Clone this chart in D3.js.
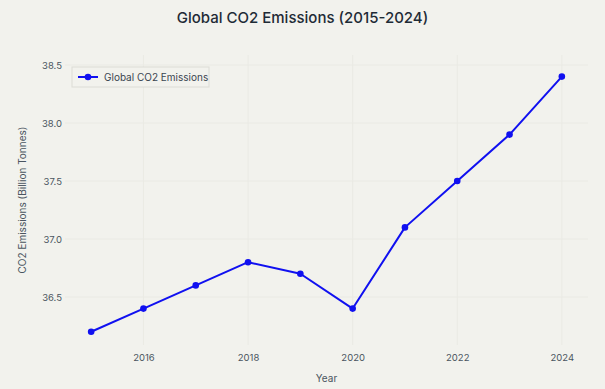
<!DOCTYPE html>
<html>
<head>
<meta charset="utf-8">
<script src="https://cdn.jsdelivr.net/npm/d3@7"></script>
<style>
  html, body { margin: 0; padding: 0; background: #f2f2ed; }
  svg { display: block; }
  text { font-family: Inter, "Open Sans", sans-serif; }
</style>
</head>
<body>
<svg id="chart" width="605" height="389"></svg>
<script>
const years = [2015, 2016, 2017, 2018, 2019, 2020, 2021, 2022, 2023, 2024];
const emissions = [36.2, 36.4, 36.6, 36.8, 36.7, 36.4, 37.1, 37.5, 37.9, 38.4];
const xTicks = [2016, 2018, 2020, 2022, 2024];
const yTicks = [36.5, 37.0, 37.5, 38.0, 38.5];
const seriesName = "Global CO2 Emissions";
const titleText = "Global CO2 Emissions (2015-2024)";
const xTitle = "Year";
const yTitle = "CO2 Emissions (Billion Tonnes)";

const W = 605, H = 389;
const m = { left: 65, right: 17, top: 55, bottom: 44 };
const svg = d3.select("#chart");
svg.append("rect").attr("width", W).attr("height", H).attr("fill", "#f2f2ed");

const x = d3.scaleLinear().domain([2014.5, 2024.5]).range([m.left, W - m.right]);
const y = d3.scaleLinear().domain([36.086, 38.586]).range([H - m.bottom, m.top]);

// grid
const g = svg.append("g");
g.selectAll(".vg").data(xTicks).join("line")
  .attr("x1", d => x(d)).attr("x2", d => x(d))
  .attr("y1", m.top).attr("y2", H - m.bottom)
  .attr("stroke", "#eaeae4").attr("stroke-width", 1);
g.selectAll(".hg").data(yTicks).join("line")
  .attr("x1", m.left).attr("x2", W - m.right)
  .attr("y1", d => y(d)).attr("y2", d => y(d))
  .attr("stroke", "#eaeae4").attr("stroke-width", 1);

// axes
const xAxis = d3.axisBottom(x).tickValues(xTicks).tickFormat(d3.format("d")).tickSize(0).tickPadding(9);
const xa = svg.append("g").attr("transform", `translate(0,${H - m.bottom})`).call(xAxis);
xa.select(".domain").remove();
xa.selectAll("text").attr("font-size", 9.5).attr("fill", "#4a5560").attr("font-family", "Inter, sans-serif");

const yAxis = d3.axisLeft(y).tickValues(yTicks).tickFormat(d3.format(".1f")).tickSize(0).tickPadding(3);
const ya = svg.append("g").attr("transform", `translate(${m.left},0)`).call(yAxis);
ya.select(".domain").remove();
ya.selectAll("text").attr("font-size", 9.5).attr("fill", "#4a5560").attr("font-family", "Inter, sans-serif");

// line
const data = years.map((yr, i) => ({ yr, v: emissions[i] }));
svg.append("path").datum(data)
  .attr("fill", "none").attr("stroke", "#1010f0").attr("stroke-width", 2)
  .attr("stroke-linejoin", "round")
  .attr("d", d3.line().x(d => x(d.yr)).y(d => y(d.v)));
svg.selectAll(".pt").data(data).join("circle")
  .attr("cx", d => x(d.yr)).attr("cy", d => y(d.v)).attr("r", 3.3)
  .attr("fill", "#1010f0");

// titles
svg.append("text").attr("x", W / 2).attr("y", 23).attr("text-anchor", "middle")
  .attr("font-size", 15).attr("font-weight", 500).attr("fill", "#1f2b36").text(titleText);
svg.append("text").attr("x", (m.left + W - m.right) / 2).attr("y", 382).attr("text-anchor", "middle")
  .attr("font-size", 10).attr("fill", "#4a5560").text(xTitle);
svg.append("text").attr("transform", `translate(26,${(m.top + H - m.bottom) / 2}) rotate(-90)`)
  .attr("text-anchor", "middle").attr("font-size", 10).attr("fill", "#4a5560").text(yTitle);

// legend
const lg = svg.append("g").attr("transform", "translate(72,67)");
lg.append("rect").attr("width", 137).attr("height", 20).attr("fill", "#f2f2ed")
  .attr("stroke", "#dcdcd6").attr("stroke-width", 1);
lg.append("line").attr("x1", 6).attr("x2", 26).attr("y1", 10).attr("y2", 10)
  .attr("stroke", "#1010f0").attr("stroke-width", 2);
lg.append("circle").attr("cx", 16).attr("cy", 10).attr("r", 3.3).attr("fill", "#1010f0");
lg.append("text").attr("x", 32).attr("y", 13.5).attr("font-size", 10).attr("fill", "#3a4550").text(seriesName);
</script>
</body>
</html>
